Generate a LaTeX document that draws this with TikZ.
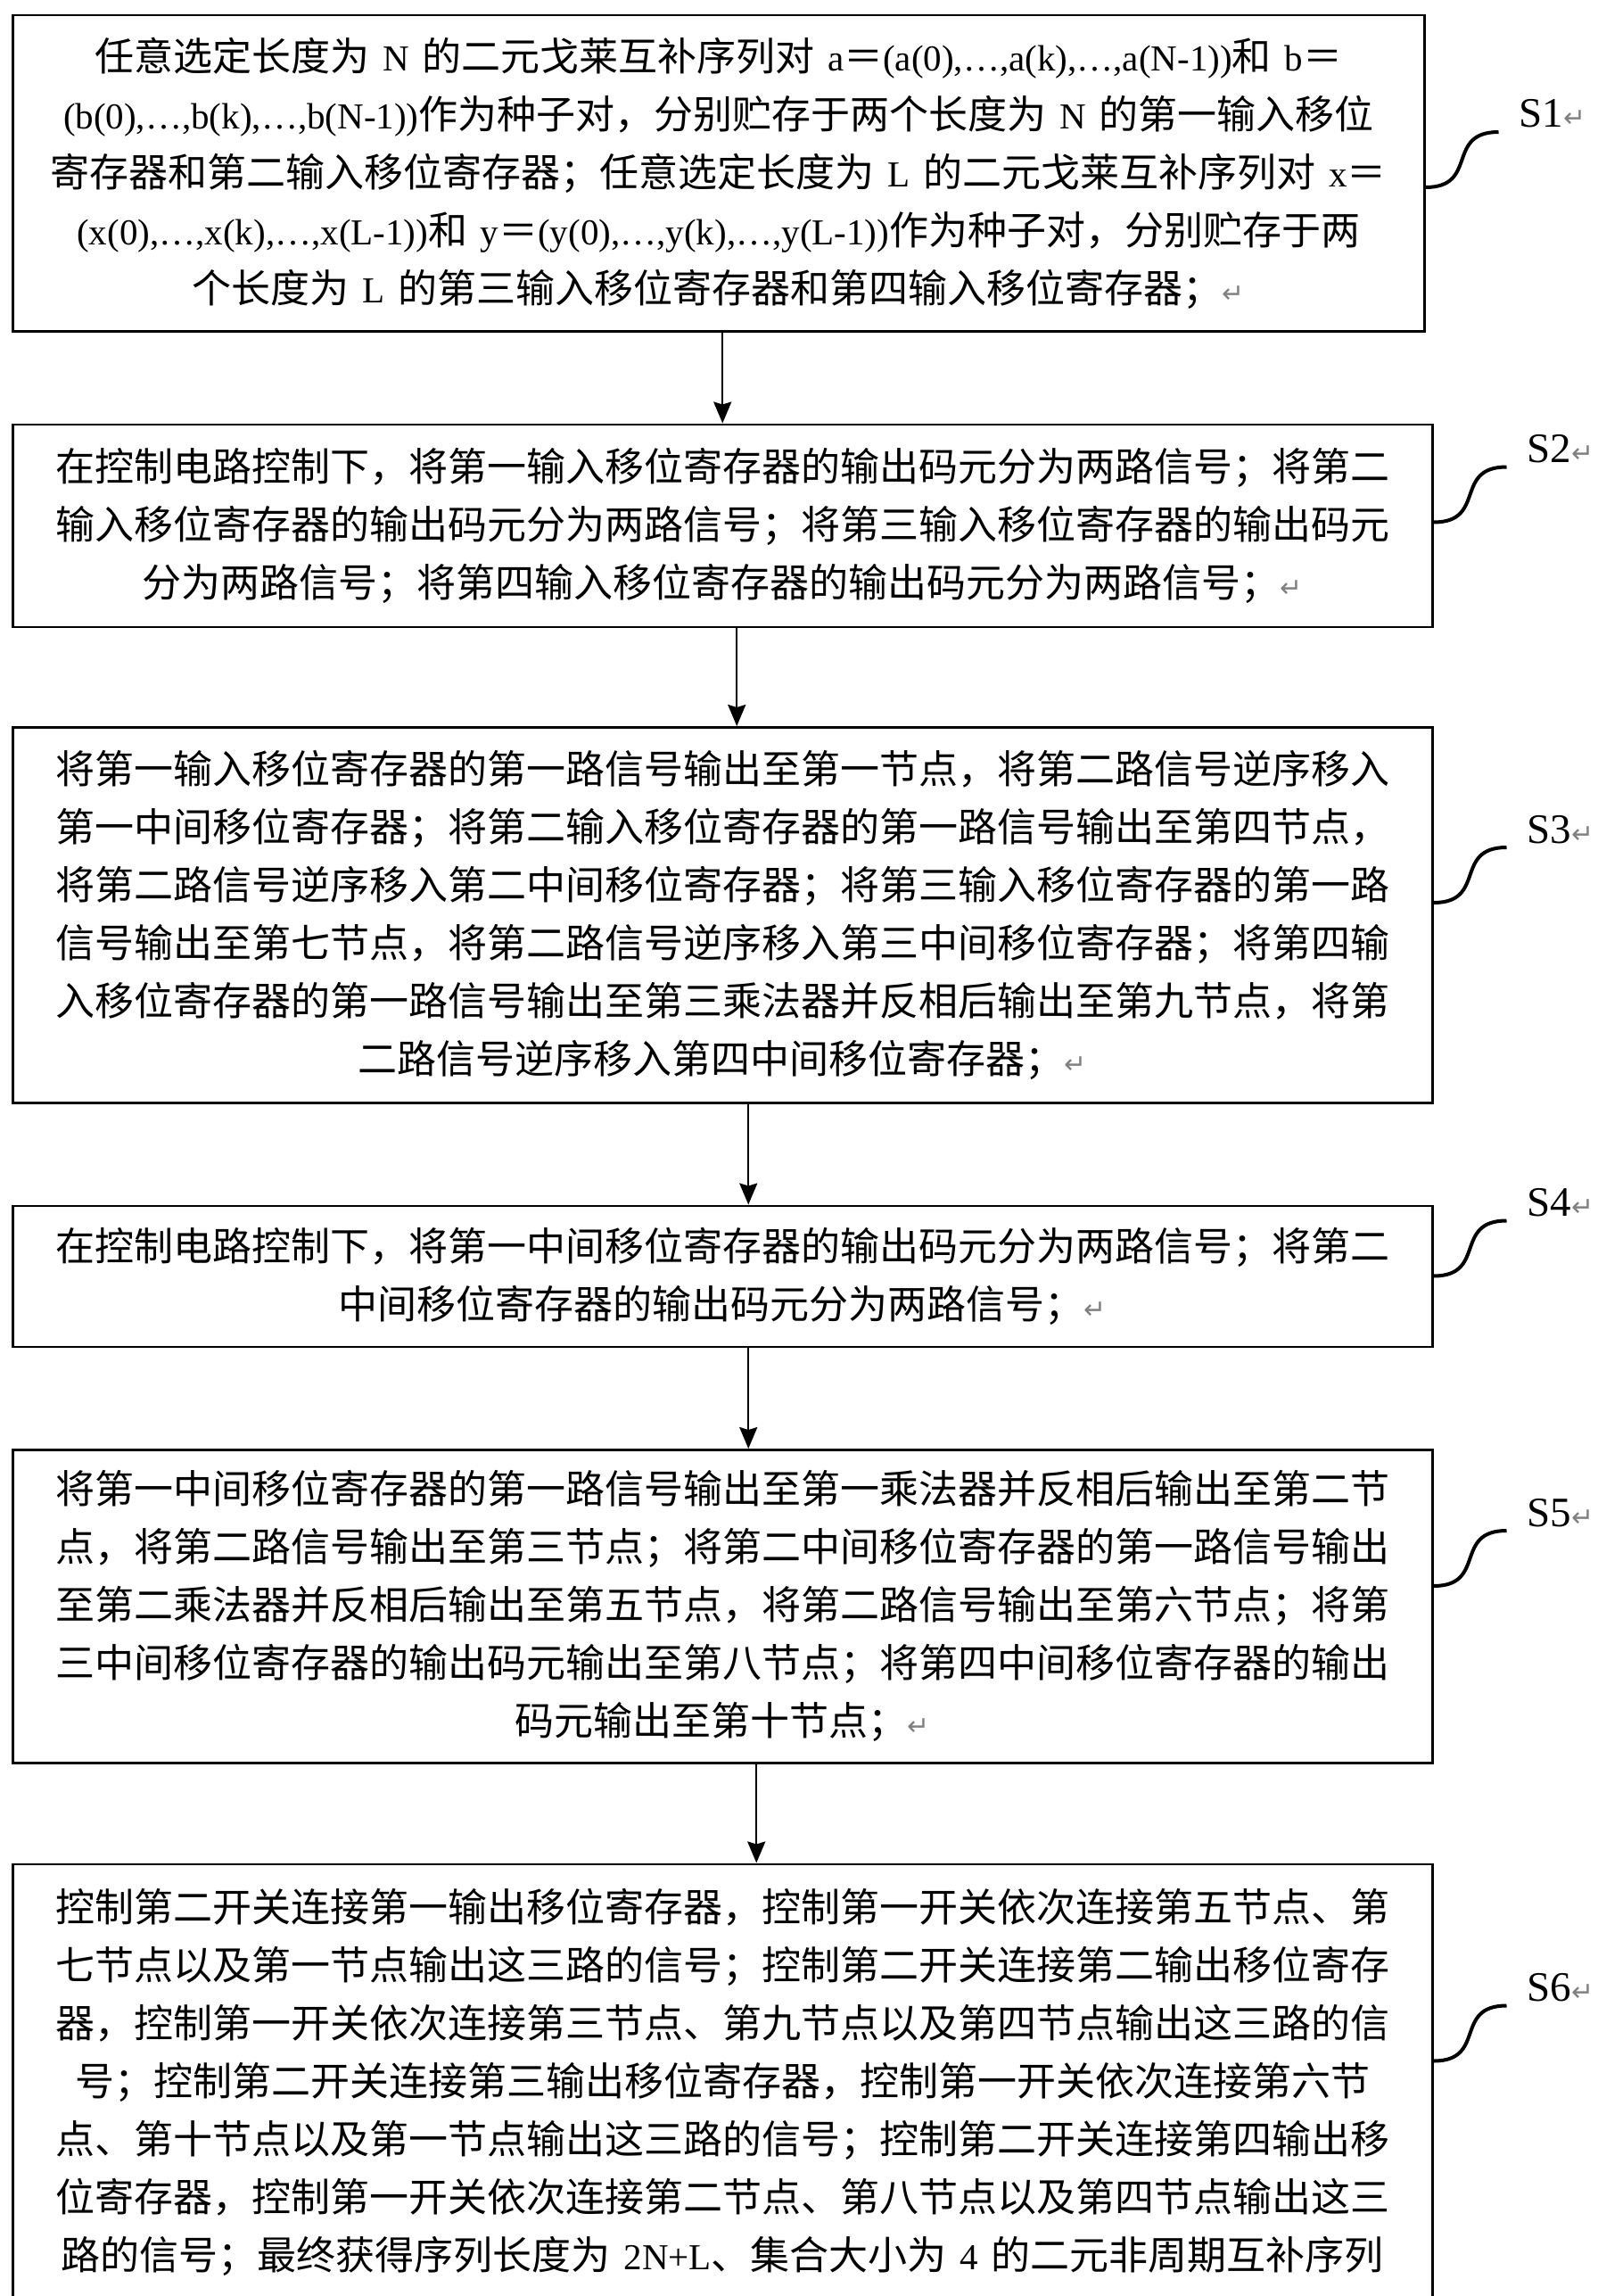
\documentclass[tikz,border=0pt]{standalone}
\usepackage{fontspec}
\setmainfont{Noto Sans CJK SC}
\newfontfamily\tmfont{Liberation Serif}
\newfontfamily\markfont{DejaVu Sans}
\usepackage{tikz}
\usetikzlibrary{arrows.meta,positioning}

\newcommand{\tm}[1]{{\tmfont\fontsize{20.5pt}{32.5pt}\selectfont#1}}
\newcommand{\ret}{{\markfont\fontsize{15pt}{15pt}\selectfont\color{gray}↵}}

\begin{document}
\begin{tikzpicture}[->,>={Stealth[length=12pt,width=10pt,inset=1.5pt]},line width=1.2pt,
		stage node/.style={rectangle,draw,line width=1.25pt,inner xsep=4pt,text width=788pt,align=center,font=\fontsize{22pt}{32.5pt}\selectfont},
		tag line/.style={-,line width=2pt},
		tag text/.style={anchor=base west,font=\tmfont\fontsize{23.5pt}{24pt}\selectfont}]
		
		\useasboundingbox (0,0) rectangle (896pt,-1287pt);
		
		\node[stage node,text width=783.5pt,minimum height=177pt,anchor=north west](s1) at (6.5pt,-8pt){
			任意选定长度为\tm{ N }的二元戈莱互补序列对\tm{ a}＝\tm{(a(0),…,a(k),…,a(N-1))}和\tm{ b}＝\\
			\tm{(b(0),…,b(k),…,b(N-1))}作为种子对，分别贮存于两个长度为\tm{ N }的第一输入移位\\
			寄存器和第二输入移位寄存器；任意选定长度为\tm{ L }的二元戈莱互补序列对\tm{ x}＝\\
			\tm{(x(0),…,x(k),…,x(L-1))}和\tm{ y}＝\tm{(y(0),…,y(k),…,y(L-1))}作为种子对，分别贮存于两\\
			个长度为\tm{ L }的第三输入移位寄存器和第四输入移位寄存器；\ret};
		\node[stage node,minimum height=113.5pt,below=51pt of s1.south west,anchor=north west](s2){
			在控制电路控制下，将第一输入移位寄存器的输出码元分为两路信号；将第二\\
			输入移位寄存器的输出码元分为两路信号；将第三输入移位寄存器的输出码元\\
			分为两路信号；将第四输入移位寄存器的输出码元分为两路信号；\ret};
		\node[stage node,minimum height=210.5pt,below=55pt of s2](s3){
			将第一输入移位寄存器的第一路信号输出至第一节点，将第二路信号逆序移入\\
			第一中间移位寄存器；将第二输入移位寄存器的第一路信号输出至第四节点，\\
			将第二路信号逆序移入第二中间移位寄存器；将第三输入移位寄存器的第一路\\
			信号输出至第七节点，将第二路信号逆序移入第三中间移位寄存器；将第四输\\
			入移位寄存器的第一路信号输出至第三乘法器并反相后输出至第九节点，将第\\
			二路信号逆序移入第四中间移位寄存器；\ret};
		\node[stage node,minimum height=79pt,below=56.5pt of s3](s4){
			在控制电路控制下，将第一中间移位寄存器的输出码元分为两路信号；将第二\\
			中间移位寄存器的输出码元分为两路信号；\ret};
		\node[stage node,minimum height=175.5pt,below=56.5pt of s4](s5){
			将第一中间移位寄存器的第一路信号输出至第一乘法器并反相后输出至第二节\\
			点，将第二路信号输出至第三节点；将第二中间移位寄存器的第一路信号输出\\
			至第二乘法器并反相后输出至第五节点，将第二路信号输出至第六节点；将第\\
			三中间移位寄存器的输出码元输出至第八节点；将第四中间移位寄存器的输出\\
			码元输出至第十节点；\ret};
		\node[stage node,minimum height=244.5pt,below=55.5pt of s5](s6){
			控制第二开关连接第一输出移位寄存器，控制第一开关依次连接第五节点、第\\
			七节点以及第一节点输出这三路的信号；控制第二开关连接第二输出移位寄存\\
			器，控制第一开关依次连接第三节点、第九节点以及第四节点输出这三路的信\\
			号；控制第二开关连接第三输出移位寄存器，控制第一开关依次连接第六节\\
			点、第十节点以及第一节点输出这三路的信号；控制第二开关连接第四输出移\\
			位寄存器，控制第一开关依次连接第二节点、第八节点以及第四节点输出这三\\
			路的信号；最终获得序列长度为\tm{ 2N+L}、集合大小为\tm{ 4 }的二元非周期互补序列};
		
		% flow arrows
		\draw ([xshift=2.25pt]s1.south) -- (s2.north);
		\draw ([xshift=8pt]s2.south) -- ([xshift=8pt]s3.north);
		\draw ([xshift=14.5pt]s3.south) -- ([xshift=14.5pt]s4.north);
		\draw ([xshift=14.5pt]s4.south) -- ([xshift=14.5pt]s5.north);
		\draw ([xshift=19pt]s5.south) -- ([xshift=19pt]s6.north);
		
		% step tags
		\coordinate (t1) at ([yshift=-97pt]s1.north east);
		\coordinate (t2) at ([yshift=-55.5pt]s2.north east);
		\coordinate (t3) at ([yshift=-99pt]s3.north east);
		\coordinate (t4) at ([yshift=-40pt]s4.north east);
		\coordinate (t5) at ([yshift=-77pt]s5.north east);
		\coordinate (t6) at ([yshift=-111pt]s6.north east);
		\coordinate (u1) at ([shift={(41pt,31pt)}]t1);
		\coordinate (u2) at ([shift={(41pt,31pt)}]t2);
		\coordinate (u3) at ([shift={(41pt,31pt)}]t3);
		\coordinate (u4) at ([shift={(41pt,31pt)}]t4);
		\coordinate (u5) at ([shift={(41pt,31pt)}]t5);
		\coordinate (u6) at ([shift={(41pt,31pt)}]t6);
		
		\draw[tag line] (t1) .. controls ([xshift=30pt]t1) and ([xshift=-30pt]u1) .. (u1);
		\draw[tag line] (t2) .. controls ([xshift=30pt]t2) and ([xshift=-30pt]u2) .. (u2);
		\draw[tag line] (t3) .. controls ([xshift=30pt]t3) and ([xshift=-30pt]u3) .. (u3);
		\draw[tag line] (t4) .. controls ([xshift=30pt]t4) and ([xshift=-30pt]u4) .. (u4);
		\draw[tag line] (t5) .. controls ([xshift=30pt]t5) and ([xshift=-30pt]u5) .. (u5);
		\draw[tag line] (t6) .. controls ([xshift=30pt]t6) and ([xshift=-30pt]u6) .. (u6);
		
		\node[tag text](l1) at ([shift={(7.5pt,2.5pt)}]u1){S1\ret};
		\node[tag text](l2) at ([shift={(7.5pt,2.5pt)}]u2){S2\ret};
		\node[tag text](l3) at ([shift={(7.5pt,2.5pt)}]u3){S3\ret};
		\node[tag text](l4) at ([shift={(7.5pt,2.5pt)}]u4){S4\ret};
		\node[tag text](l5) at ([shift={(7.5pt,2.5pt)}]u5){S5\ret};
		\node[tag text](l6) at ([shift={(7.5pt,2.5pt)}]u6){S6\ret};
		
	\end{tikzpicture}
\end{document}
